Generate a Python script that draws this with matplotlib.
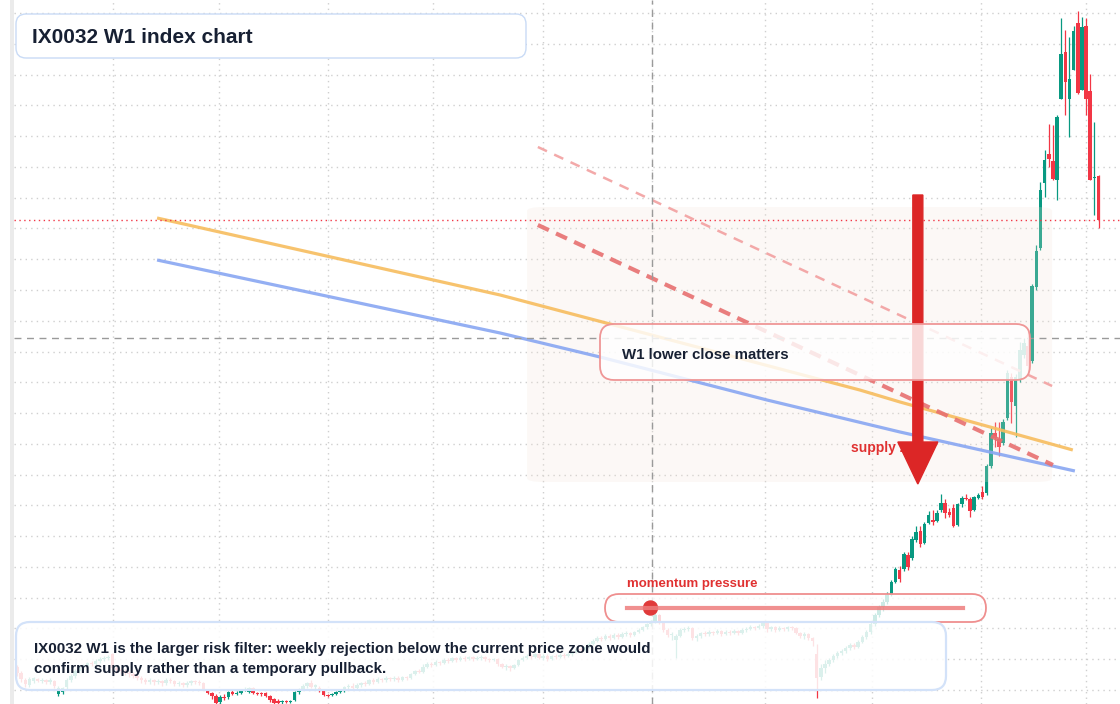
import numpy as np
import matplotlib.pyplot as plt
from matplotlib.patches import FancyBboxPatch, FancyArrow, Circle
from matplotlib.lines import Line2D
from matplotlib.transforms import IdentityTransform

plt.rcParams['font.family'] = ['Liberation Sans', 'DejaVu Sans']

# ---- weekly candles (index points) ----
opens = [37, 31, 24, 19, 23, 25, 23, 24, 22, 23,
         10, 12, 17, 24, 28, 33, 37, 38, 41, 40,
         43, 45, 46, 50, 36, 34, 33, 31, 30, 28,
         26, 24, 22, 24, 22, 23, 21, 24, 23, 20,
         21, 19, 21, 23, 22, 21, 14, 11, 8, 2,
         7, 7, 12, 10, 11, 14, 12, 16, 11, 11,
         11, 8, 5, 3, 2, 3, 2, 4, 12, 15,
         18, 21, 17, 16, 13, 9, 9, 10, 12, 13,
         17, 18, 16, 19, 21, 20, 24, 22, 25, 24,
         26, 25, 26, 24, 27, 26, 30, 33, 32, 37,
         40, 39, 42, 41, 44, 43, 46, 44, 46, 45,
         47, 45, 46, 47, 45, 44, 45, 40, 37, 38,
         36, 39, 44, 46, 48, 47, 50, 46, 48, 45,
         48, 47, 49, 48, 50, 52, 55, 54, 57, 60,
         63, 66, 65, 68, 66, 69, 67, 70, 71, 69,
         72, 74, 77, 80, 83, 89, 82, 74, 69, 64,
         68, 74, 75, 76, 66, 68, 71, 70, 72, 71,
         73, 70, 72, 71, 73, 71, 74, 75, 77, 76,
         78, 81, 75, 77, 74, 76, 75, 77, 76, 71,
         68, 70, 66, 50, 27, 36, 40, 44, 48, 51,
         53, 56, 59, 57, 62, 67, 72, 80, 89, 97,
         102, 109, 122, 134, 135, 149, 146, 164, 173, 161,
         181, 184, 183, 194, 201, 192, 196, 179, 200, 206,
         205, 194, 206, 212, 211, 238, 271, 265, 261, 286,
         327, 298, 324, 349, 358, 343, 417, 456, 521, 550,
         543, 524, 605, 652, 605, 634, 681, 614, 678, 613,
         526, 528]
highs = [39, 33, 26, 27, 27, 26, 26, 25, 26, 24,
         18, 17, 26, 30, 35, 39, 40, 42, 43, 45,
         47, 48, 49, 51, 38, 36, 35, 33, 32, 30,
         28, 26, 26, 25, 25, 24, 26, 26, 24, 23,
         22, 23, 24, 24, 24, 22, 15, 12, 10, 9,
         10, 13, 14, 13, 15, 17, 17, 17, 12, 12,
         12, 9, 6, 5, 4, 4, 4, 13, 16, 20,
         22, 24, 20, 18, 14, 10, 11, 13, 14, 18,
         20, 21, 21, 22, 23, 25, 26, 27, 26, 28,
         27, 28, 28, 28, 28, 31, 34, 35, 40, 42,
         42, 44, 43, 46, 46, 47, 47, 48, 48, 48,
         48, 48, 49, 48, 46, 46, 46, 41, 40, 39,
         40, 45, 48, 50, 50, 51, 52, 50, 50, 49,
         50, 51, 51, 52, 53, 56, 57, 58, 62, 65,
         68, 68, 70, 70, 71, 71, 72, 73, 72, 73,
         76, 78, 81, 84, 92, 90, 83, 76, 72, 70,
         76, 77, 78, 77, 70, 72, 73, 74, 73, 75,
         74, 74, 74, 75, 74, 76, 77, 79, 78, 80,
         82, 83, 78, 78, 78, 77, 78, 78, 77, 72,
         72, 71, 67, 60, 40, 44, 46, 50, 53, 55,
         58, 61, 61, 64, 69, 74, 82, 91, 99, 105,
         112, 124, 137, 138, 152, 152, 168, 178, 178, 182,
         193, 194, 194, 210, 205, 196, 200, 201, 208, 210,
         207, 208, 211, 218, 240, 276, 282, 282, 285, 334,
         331, 330, 362, 366, 374, 420, 459, 522, 554, 580,
         579, 589, 686, 674, 667, 678, 693, 687, 686, 630,
         582, 529]
lows = [28, 22, 17, 17, 21, 22, 21, 20, 20, 16,
        8, 10, 15, 22, 26, 31, 35, 36, 38, 39,
        41, 43, 44, 34, 31, 30, 29, 27, 26, 24,
        21, 20, 20, 19, 20, 18, 19, 21, 18, 18,
        17, 17, 19, 20, 19, 14, 10, 5, 0, 0,
        4, 5, 9, 9, 10, 13, 11, 10, 9, 8,
        7, 2, 0, 0, 0, 1, 1, 3, 10, 14,
        16, 16, 15, 12, 8, 7, 8, 9, 11, 12,
        15, 15, 15, 17, 18, 19, 20, 21, 22, 22,
        23, 23, 22, 23, 24, 25, 29, 31, 31, 36,
        37, 38, 39, 40, 41, 42, 42, 43, 43, 44,
        43, 44, 44, 43, 42, 43, 38, 36, 34, 33,
        35, 38, 43, 45, 45, 46, 45, 44, 43, 44,
        45, 46, 46, 47, 48, 51, 52, 53, 56, 59,
        62, 63, 64, 64, 65, 65, 66, 68, 67, 68,
        71, 73, 75, 78, 81, 80, 72, 67, 64, 46,
        67, 72, 73, 64, 63, 66, 68, 68, 69, 70,
        68, 69, 69, 70, 69, 70, 72, 74, 74, 75,
        76, 72, 73, 72, 73, 73, 73, 74, 70, 66,
        65, 64, 58, 6, 24, 31, 38, 42, 46, 49,
        51, 54, 55, 56, 61, 65, 70, 78, 87, 93,
        100, 108, 121, 122, 133, 134, 144, 162, 157, 160,
        180, 179, 182, 192, 186, 187, 177, 178, 197, 204,
        187, 193, 205, 205, 209, 236, 257, 248, 259, 284,
        281, 267, 322, 346, 331, 341, 414, 454, 507, 537,
        524, 504, 605, 589, 567, 634, 610, 614, 589, 524,
        489, 476]
closes = [31, 25, 20, 25, 26, 23, 24, 22, 24, 18,
          16, 16, 24, 28, 33, 37, 38, 41, 40, 43,
          45, 46, 47, 36, 34, 33, 31, 30, 28, 26,
          24, 22, 24, 22, 23, 21, 24, 23, 20, 21,
          19, 21, 23, 22, 21, 15, 11, 8, 1, 7,
          6, 12, 10, 11, 14, 15, 16, 11, 10, 10,
          8, 4, 1, 1, 3, 2, 3, 12, 15, 18,
          21, 17, 19, 13, 9, 8, 10, 12, 13, 17,
          18, 16, 19, 21, 20, 24, 22, 25, 24, 26,
          25, 26, 24, 27, 26, 30, 33, 32, 37, 40,
          39, 42, 41, 44, 43, 46, 44, 46, 45, 47,
          45, 46, 47, 45, 44, 45, 40, 37, 38, 36,
          39, 44, 46, 48, 47, 50, 46, 48, 45, 48,
          47, 49, 48, 50, 52, 55, 54, 57, 60, 63,
          66, 65, 68, 66, 69, 67, 70, 71, 69, 72,
          74, 77, 80, 83, 89, 82, 74, 69, 70, 68,
          74, 75, 76, 66, 68, 71, 70, 72, 71, 73,
          70, 72, 71, 73, 71, 74, 75, 77, 76, 78,
          81, 75, 77, 74, 76, 75, 77, 76, 71, 68,
          70, 66, 63, 26, 36, 40, 44, 48, 51, 53,
          56, 59, 57, 62, 67, 72, 80, 89, 97, 102,
          109, 122, 135, 125, 150, 137, 165, 172, 160, 180,
          189, 182, 191, 201, 191, 189, 178, 200, 206, 205,
          193, 207, 209, 207, 238, 271, 266, 257, 282, 331,
          302, 327, 354, 361, 338, 418, 453, 514, 544, 545,
          525, 587, 650, 622, 625, 673, 611, 677, 605, 524,
          527, 484]

# ---- overlays ----
ema_fast_x = [33.8, 116.6, 143.1, 203.4, 213.1, 254.8]
ema_fast_y = [486, 409, 380, 314, 302, 254]
ema_slow_x = [33.8, 116.6, 140.7, 181.0, 213.1, 255.3]
ema_slow_y = [444, 371, 347, 304, 272, 233]
trend_main_x = [125.7, 250.0]
trend_main_y = [479, 239]
trend_upper_x = [125.7, 249.8]
trend_upper_y = [557, 318]
zone_x = [123.1, 249.8]
zone_y = [222, 497]
last_price = 484
cross_x, cross_y = 153.2, 366
arrow_x, arrow_from, arrow_to = 217.4, 509, 220
grid_x = [23.2, 48.7, 75.0, 100.4, 126.9, 153.2, 180.5, 206.3, 232.6, 258.0]
momentum = 0.07

title = "IX0032 W1 index chart"
note = ("IX0032 W1 is the larger risk filter: weekly rejection below the current price zone would\n"
        "confirm supply rather than a temporary pullback.")
callout = "W1 lower close matters"

W, H = 1120, 704
fig = plt.figure(figsize=(W / 100, H / 100), dpi=100)
ax = fig.add_axes([14 / W, 0, 1 - 14 / W, 1])
n = len(closes)
step = (1098.5 - 17) / (n - 1)
ax.set_xlim(-3 / step, (W - 17) / step)
ax.set_ylim(0, H)
for s in ax.spines.values():
    s.set_visible(False)
ax.set_xticks(grid_x)
ax.set_yticks(np.arange(14, 700, 30.77))
ax.tick_params(length=0, labelleft=False, labelbottom=False)
ax.grid(True, color='#cfcfcf', lw=1, ls=(0, (1, 3)))
ax.set_axisbelow(True)

o = np.array(opens, float)
c = np.array(closes, float)
x = np.arange(n)
up = c >= o
cols = np.where(up, '#089981', '#f23645')
ax.vlines(x, lows, highs, colors=cols, lw=0.9, zorder=2)
ax.bar(x, np.maximum(np.abs(c - o), 1.5), bottom=np.minimum(o, c), width=0.85,
       color=cols, zorder=2.1)

# supply zone
ax.add_patch(FancyBboxPatch((zone_x[0], zone_y[0]), zone_x[1] - zone_x[0], zone_y[1] - zone_y[0],
                            boxstyle="round,pad=0,rounding_size=4", fc='#f3e2d6', ec='none',
                            alpha=0.22, zorder=2.5))

ax.plot(ema_fast_x, ema_fast_y, color='#f7bd5e', lw=2.3, alpha=0.9, zorder=3, solid_capstyle='butt')
ax.plot(ema_slow_x, ema_slow_y, color='#88a6f2', lw=2.3, alpha=0.9, zorder=3, solid_capstyle='butt')
ax.plot(trend_main_x, trend_main_y, color='#e77070', lw=3, ls=(0, (2.9, 1.9)), alpha=0.9, zorder=3)
ax.plot(trend_upper_x, trend_upper_y, color='#f2a0a0', lw=1.8, ls=(0, (4, 3.2)), alpha=0.9, zorder=3)

ax.axhline(last_price, color='#f23645', lw=1, ls=(0, (1, 2.5)), zorder=3.5)
ax.axhline(cross_y, color='#9a9a9a', lw=1, ls=(0, (5, 4)), zorder=3.5)
ax.axvline(cross_x, color='#9a9a9a', lw=1, ls=(0, (5, 4)), zorder=3.5)

ax.text(201.3, 256, "supply zone", color='#e03131', fontsize=10, fontweight='bold',
        va='center', ha='left', zorder=4)
ax.add_patch(FancyArrow(arrow_x, arrow_from, 0, arrow_to - arrow_from, width=10 / step,
                        head_width=40 / step, head_length=42, length_includes_head=True,
                        color='#dc2626', zorder=5))

# ---- annotation boxes (pixel layout) ----
px = IdentityTransform()


def box(x0, y0, x1, y1, ec, lw, alpha=1.0, r=10):
    p = FancyBboxPatch((x0, H - y1), x1 - x0, y1 - y0, boxstyle=f"round,pad=0,rounding_size={r}",
                       transform=px, ec=ec, lw=lw)
    p.set_facecolor((1, 1, 1, alpha))
    fig.add_artist(p)


fig.add_artist(plt.Rectangle((10, 0), 4, H, transform=px, fc='#ebebeb', ec='none'))

box(16, 14, 526, 58, '#c9dbf6', 1.0, 1.0)
fig.text(32, H - 37.5, title, transform=px, fontsize=15, fontweight='bold', color='#172033', va='center')

box(600, 324, 1030, 380, '#ef9696', 1.3, 0.82, r=14)
fig.text(622, H - 355, callout, transform=px, fontsize=10.8, fontweight='bold', color='#172033', va='center')

fig.text(627, H - 584, "momentum pressure", transform=px, fontsize=9.5, fontweight='bold',
         color='#e03131', va='center')
box(605, 594, 986, 622, '#ef8f8f', 1.3, 0.8, r=14)
fig.add_artist(Line2D([627, 963], [H - 608, H - 608], transform=px, color='#ee7d7d', lw=3, alpha=0.85))
fig.add_artist(Circle((627 + momentum * (963 - 627), H - 608), 7, transform=px, color='#e03a3a'))

box(16, 622, 946, 690, '#d3e2f9', 1.6, 0.86, r=14)
fig.text(34, H - 659, note, transform=px, fontsize=10.9, fontweight='bold', color='#172033',
         va='center', linespacing=1.6)

fig.savefig('out.png', dpi=100)
